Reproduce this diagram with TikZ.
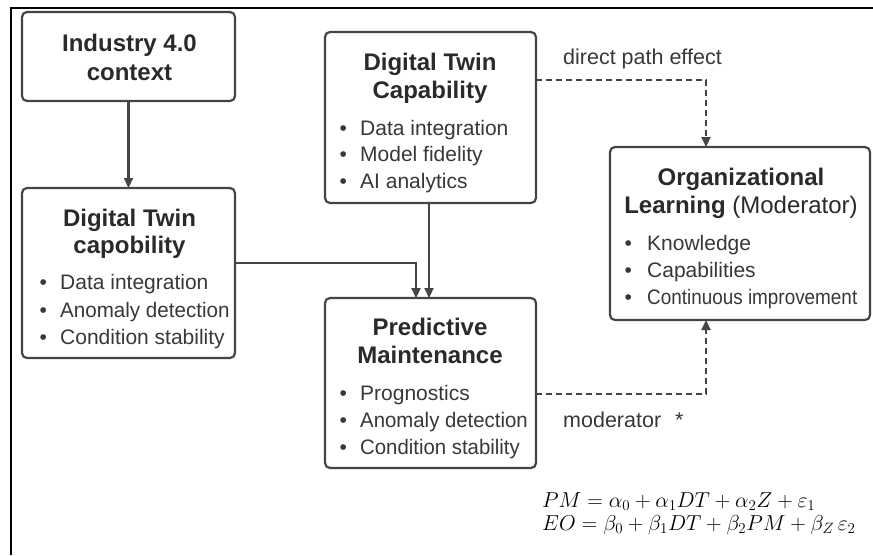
\documentclass[tikz,border=0pt]{standalone}
\usepackage{fontspec}
\setmainfont{Liberation Sans}
\usetikzlibrary{arrows.meta}
\definecolor{boxc}{HTML}{454545}
\definecolor{txtc}{HTML}{2A2A2A}
\definecolor{bulc}{HTML}{383838}
\tikzset{
  box/.style={draw=boxc, line width=2.2pt, rounded corners=5pt, fill=white, inner sep=0pt, outer sep=0pt},
  ttl/.style={anchor=base, inner sep=0pt, text=txtc, font=\fontsize{24}{28}\selectfont\bfseries},
  bul/.style={anchor=base west, inner sep=0pt, text=bulc, font=\fontsize{21}{26}\selectfont},
  lbl/.style={anchor=base west, inner sep=0pt, text=bulc, font=\fontsize{21.5}{26}\selectfont},
  conn/.style={draw=boxc, line width=2.2pt, -{Triangle[length=10pt,width=9pt]}},
  dconn/.style={draw=boxc, line width=2.2pt, dash pattern=on 6pt off 4pt, -{Triangle[length=10pt,width=9pt]}},
  eqn/.style={anchor=base west, inner sep=0pt, text=black, font=\fontsize{20.74}{24}\selectfont}
}
\newcommand{\bb}[1]{\makebox[#1pt][l]{•}}
\begin{document}
\begin{tikzpicture}[x=1pt,y=-1pt]
\useasboundingbox[fill=white] (0,0) rectangle (873,555);
% frame
\draw[line width=1.8pt, black] (11,555) -- (11,8) -- (873,8);
% boxes
\node[box, minimum width=213pt, minimum height=89pt] (ind) at (128.5,56.5) {};
\node[box, minimum width=213pt, minimum height=170pt] (dtl) at (128.5,273) {};
\node[box, minimum width=211pt, minimum height=171pt] (dtc) at (430.5,117.5) {};
\node[box, minimum width=211pt, minimum height=170pt] (pm) at (430.5,383) {};
\node[box, minimum width=260pt, minimum height=173pt] (org) at (740,233.5) {};
% industry
\node[ttl] (indt1) at (129.5,51.5) {Industry 4.0};
\node[ttl] (indt2) at (129.5,80.5) {context};
% left DT
\node[ttl] (dtlt1) at (129.5,226.5) {Digital Twin};
\node[ttl] (dtlt2) at (129.5,253.5) {capobility};
\node[bul] (dtlb1) at (39.5,289.5) {\bb{20.5}Data integration};
\node[bul] (dtlb2) at (39.5,317.5) {\bb{20.5}\scalebox{0.98}[1]{Anomaly detection}};
\node[bul] (dtlb3) at (39.5,344.5) {\bb{20.5}Condition stability};
% center DT
\node[ttl] (dtct1) at (430,70.5) {Digital Twin};
\node[ttl] (dtct2) at (430,98.5) {Capability};
\node[bul] (dtcb1) at (339.5,135.5) {\bb{20.5}Data integration};
\node[bul] (dtcb2) at (339.5,161.5) {\bb{20.5}Model fidelity};
\node[bul] (dtcb3) at (339.5,188.5) {\bb{20.5}AI analytics};
% PM
\node[ttl] (pmt1) at (430,335.5) {Predictive};
\node[ttl] (pmt2) at (430,363.5) {Maintenance};
\node[bul] (pmb1) at (339.5,400.5) {\bb{20.5}Prognostics};
\node[bul] (pmb2) at (339.5,427.5) {\bb{20.5}\scalebox{0.97}[1]{Anomaly detection}};
\node[bul] (pmb3) at (339.5,454.5) {\bb{20.5}\scalebox{0.97}[1]{Condition stability}};
% ORG
\node[ttl] (orgt1) at (741,185.5) {Organizational};
\node[ttl] (orgt2) at (741,213.5) {Learning \mdseries(Moderator)};
\node[bul] (orgb1) at (624.5,250.5) {\bb{22.5}Knowledge};
\node[bul] (orgb2) at (624.5,277.5) {\bb{22.5}Capabilities};
\node[bul] (orgb3) at (624.5,304.5) {\bb{22.5}\scalebox{0.9}[1]{Continuous improvement}};
% connectors
\coordinate (j1) at (416,263);
\coordinate (j2) at (429,0);
\coordinate (k) at (706,80);
\coordinate (m) at (706,394);
\draw[conn] (ind.south) -- (dtl.north);
\draw[conn] (dtl.east |- j1) -| (j1 |- pm.north);
\draw[conn] (j2 |- dtc.south) -- (j2 |- pm.north);
\draw[dconn] (dtc.east |- k) -| (k |- org.north);
\draw[dconn] (pm.east |- m) -| (m |- org.south);
% labels
\node[lbl] (lbldir) at (563,64) {direct path effect};
\node[lbl] (lblmod) at (563,427) {moderator\hspace{14pt}*};
% equations
\node[eqn] (eq1) at (542,507) {\scalebox{1.04}{$PM=\alpha_0+\alpha_1DT+\alpha_2Z+\varepsilon_1$}};
\node[eqn] (eq2) at (542,530) {\scalebox{1.04}{$EO=\beta_0+\beta_1DT+\beta_2PM+\beta_Z\,\varepsilon_2$}};
\end{tikzpicture}
\end{document}
